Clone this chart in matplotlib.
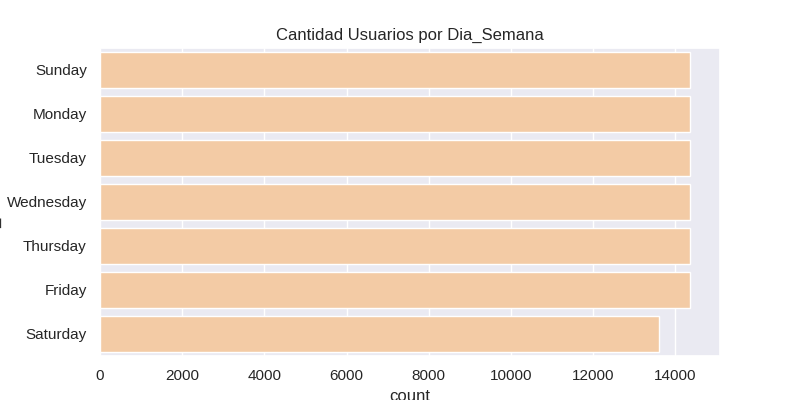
import matplotlib
matplotlib.use("Agg")
import matplotlib.pyplot as plt
import seaborn as sns

days = ["Sunday", "Monday", "Tuesday", "Wednesday", "Thursday", "Friday", "Saturday"]
counts = [14370, 14370, 14370, 14370, 14370, 14370, 13610]


def main():
    sns.set_theme(style="darkgrid")
    plt.rcParams["font.family"] = ["Liberation Sans", "DejaVu Sans"]
    fig, ax = plt.subplots(figsize=(8, 4), dpi=100)
    sns.barplot(x=counts, y=days, color="#f3cba5", saturation=1, ax=ax)
    ax.set_title("Cantidad Usuarios por Dia_Semana")
    ax.set_xlabel("count")
    ax.set_ylabel("Dia_Semana")
    fig.savefig("out.png")


if __name__ == "__main__":
    main()
